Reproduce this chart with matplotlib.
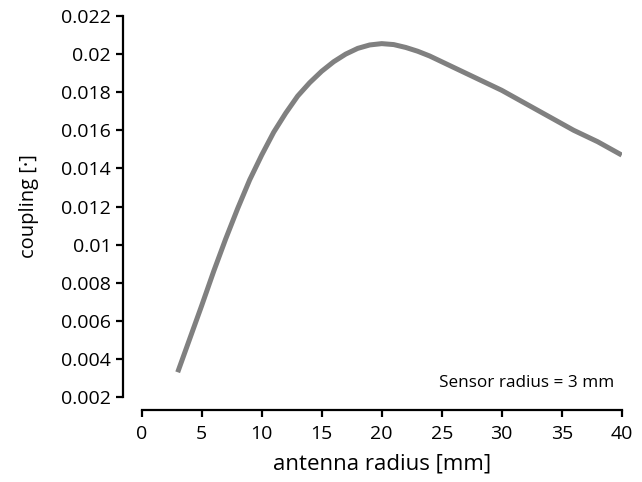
import matplotlib
matplotlib.use("Agg")
import matplotlib.pyplot as plt

# values
antenna_radius = [3, 4, 5, 6, 7, 8, 9, 10, 11, 12, 13, 14, 15, 16, 17, 18, 19,
                  20, 21, 22, 23, 24, 25, 26, 27, 28, 29, 30, 32, 34, 36, 38, 40]
coupling = [0.0033, 0.00505, 0.0068, 0.0086, 0.0103, 0.0119, 0.0134, 0.0147,
            0.0159, 0.0169, 0.0178, 0.0185, 0.0191, 0.0196, 0.0200, 0.0203,
            0.02048, 0.02055, 0.0205, 0.02035, 0.02015, 0.0199, 0.0196, 0.0193,
            0.0190, 0.0187, 0.0184, 0.0181, 0.0174, 0.0167, 0.0160, 0.0154,
            0.0147]
x_ticks = [0, 5, 10, 15, 20, 25, 30, 35, 40]
y_ticks = [0.002, 0.004, 0.006, 0.008, 0.01, 0.012, 0.014, 0.016, 0.018, 0.02, 0.022]
y_tick_labels = ["0.002", "0.004", "0.006", "0.008", "0.01", "0.012",
                 "0.014", "0.016", "0.018", "0.02", "0.022"]

plt.rcParams['font.family'] = ['Open Sans', 'DejaVu Sans']

fig = plt.figure(figsize=(6.42, 4.82), dpi=100)
ax = fig.add_axes([0.2207, 0.1763, 0.7477, 0.7905])

ax.plot(antenna_radius, coupling, color="#808080", lw=3.6,
        solid_capstyle="butt", solid_joinstyle="round")

ax.set_xlim(0, 40)
ax.set_ylim(0.002, 0.022)
ax.set_xticks(x_ticks)
ax.set_yticks(y_ticks)
ax.set_yticklabels(y_tick_labels)

for s in ["top", "right"]:
    ax.spines[s].set_visible(False)
ax.spines["left"].set_position(("outward", 13.5))
ax.spines["bottom"].set_position(("outward", 9.5))
for s in ["left", "bottom"]:
    ax.spines[s].set_linewidth(1.6)
ax.tick_params(axis="both", direction="out", length=5, width=1.6, labelsize=14)
ax.tick_params(axis="y", pad=3.5)
ax.tick_params(axis="x", pad=6)

ax.set_xlabel("antenna radius [mm]", fontsize=16, labelpad=7)
ax.set_ylabel("coupling [·]", fontsize=14.5, labelpad=16)

ax.text(0.985, 0.015, "Sensor radius = 3 mm", transform=ax.transAxes,
        ha="right", va="bottom", fontsize=12.3)

fig.savefig("out.png", dpi=100)
